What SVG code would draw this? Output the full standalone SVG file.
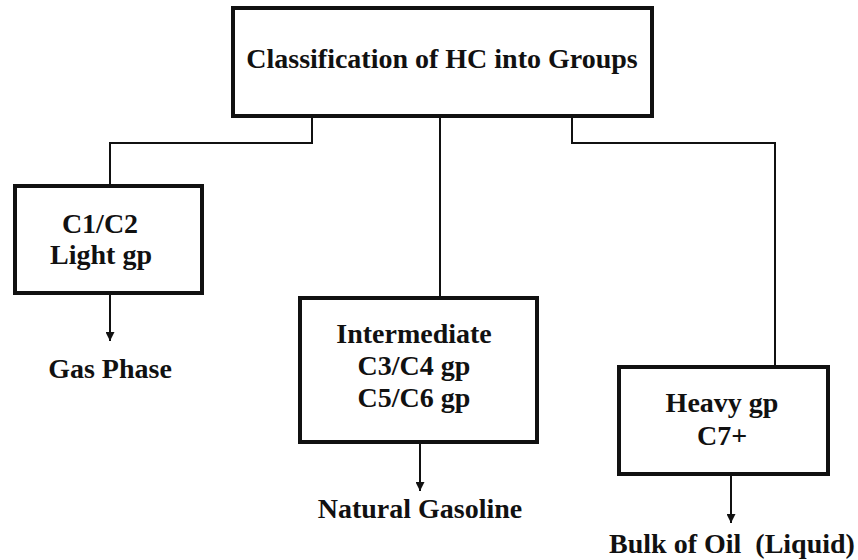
<svg xmlns="http://www.w3.org/2000/svg" width="858" height="560" viewBox="0 0 858 560">
<defs>
<marker id="arr" viewBox="0 0 10 10" refX="10" refY="5" markerWidth="4.5" markerHeight="4.5" markerUnits="strokeWidth" orient="auto">
<path d="M0,0 L10,5 L0,10 z" fill="#111"/>
</marker>
<style>
.box{fill:#fff;stroke:#111;stroke-width:4}
.con{fill:none;stroke:#111;stroke-width:2}
</style>
</defs>
<rect width="858" height="560" fill="#fff"/>
<g id="connectors">
<polyline class="con" points="312,116 312,143 110,143 110,186"/>
<line class="con" x1="440" y1="116" x2="440" y2="298"/>
<polyline class="con" points="572,116 572,143 775,143 775,367"/>
<line class="con" x1="110" y1="293" x2="110" y2="341" marker-end="url(#arr)"/>
<line class="con" x1="420" y1="442" x2="420" y2="491" marker-end="url(#arr)"/>
<line class="con" x1="731" y1="474" x2="731" y2="523" marker-end="url(#arr)"/>
</g>
<g id="root">
<rect class="box" x="233" y="8" width="419" height="108"/>
<text x="442" y="68" font-family="Liberation Serif" font-weight="bold" font-size="28" fill="#111" text-anchor="middle">Classification of HC into Groups</text>
</g>
<g id="light">
<rect class="box" x="15" y="186" width="187" height="107"/>
<text x="100" y="233" font-family="Liberation Serif" font-weight="bold" font-size="28" fill="#111" text-anchor="middle">C1/C2</text>
<text x="101" y="264" font-family="Liberation Serif" font-weight="bold" font-size="28" fill="#111" text-anchor="middle">Light gp</text>
</g>
<g id="gas">
<text x="110" y="378" font-family="Liberation Serif" font-weight="bold" font-size="28" fill="#111" text-anchor="middle">Gas Phase</text>
</g>
<g id="intermediate">
<rect class="box" x="300" y="298" width="237" height="144"/>
<text x="414" y="343" font-family="Liberation Serif" font-weight="bold" font-size="28" fill="#111" text-anchor="middle">Intermediate</text>
<text x="414" y="375" font-family="Liberation Serif" font-weight="bold" font-size="28" fill="#111" text-anchor="middle">C3/C4 gp</text>
<text x="414" y="407" font-family="Liberation Serif" font-weight="bold" font-size="28" fill="#111" text-anchor="middle">C5/C6 gp</text>
</g>
<g id="gasoline">
<text x="420" y="518" font-family="Liberation Serif" font-weight="bold" font-size="28" fill="#111" text-anchor="middle">Natural Gasoline</text>
</g>
<g id="heavy">
<rect class="box" x="619" y="367" width="209" height="107"/>
<text x="722" y="412" font-family="Liberation Serif" font-weight="bold" font-size="28" fill="#111" text-anchor="middle">Heavy gp</text>
<text x="722" y="445" font-family="Liberation Serif" font-weight="bold" font-size="28" fill="#111" text-anchor="middle">C7+</text>
</g>
<g id="oil">
<text x="732" y="553" font-family="Liberation Serif" font-weight="bold" font-size="28" fill="#111" text-anchor="middle" xml:space="preserve">Bulk of Oil  (Liquid)</text>
</g>
</svg>
